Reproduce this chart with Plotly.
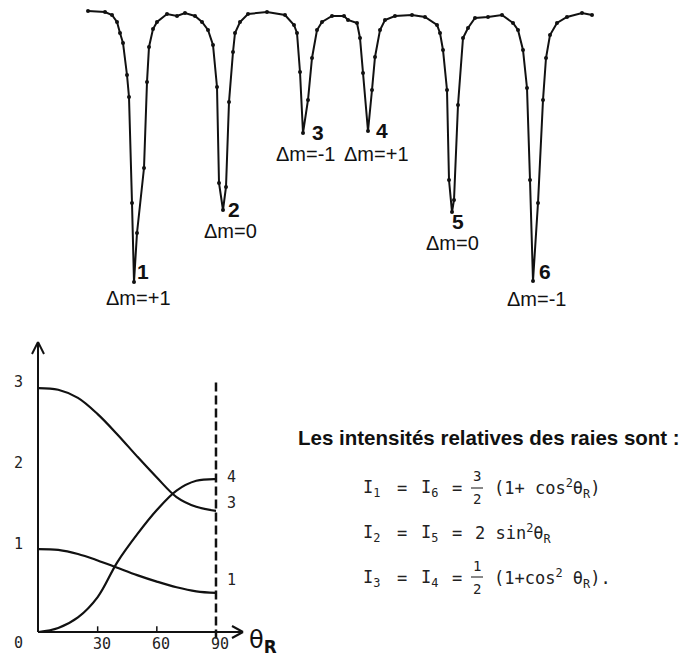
import plotly.graph_objects as go

W, H = 691, 664
OFF = 8  # page body margin offset of the plot div

# ---- Mössbauer spectrum (channel, relative transmission %) ----
channel = [88, 105, 112, 117, 120, 123, 127, 129, 132, 134, 137, 144, 147, 149, 153, 157, 167, 177, 185, 195,
           202, 208, 213, 217, 219, 223, 226, 229, 233, 235, 240, 248, 267, 285, 294, 297, 300, 303, 308, 312,
           317, 322, 332, 344, 348, 357, 360, 363, 368, 372, 375, 380, 385, 395, 412, 425, 437, 440, 443, 447,
           449, 452, 454, 458, 463, 468, 475, 488, 502, 513, 518, 523, 527, 530, 533, 538, 543, 546, 550, 557,
           567, 582, 592]
transmission = [100.1, 100.0, 99.7, 99.0, 97.9, 96.9, 93.7, 91.5, 80.9, 73.0, 77.9, 84.4, 93.0, 96.5, 98.3, 99.0, 99.8, 99.6, 99.9, 99.6,
                99.0, 98.2, 96.7, 92.5, 82.9, 80.2, 82.5, 91.0, 96.0, 97.9, 99.0, 99.8, 100.0, 99.7, 98.7, 97.9, 94.0, 87.9, 91.2, 95.4,
                98.2, 99.0, 99.6, 99.6, 99.2, 98.9, 97.4, 93.9, 88.1, 92.2, 95.5, 98.2, 99.2, 99.6, 99.7, 99.5, 98.7, 97.9, 96.2, 92.2,
                83.2, 80.0, 81.2, 90.7, 97.4, 98.4, 99.4, 99.5, 99.7, 98.9, 98.2, 96.2, 92.4, 83.2, 73.1, 80.9, 91.2, 95.4, 97.7, 98.9,
                99.5, 99.9, 99.7]

line_numbers = ["1", "2", "3", "4", "5", "6"]
line_dm = ["\u0394m=+1", "\u0394m=0", "\u0394m=-1", "\u0394m=+1", "\u0394m=0", "\u0394m=-1"]

# ---- relative intensities vs theta_R ----
theta = [0, 10, 20, 30, 40, 50, 60, 70, 80, 90]
i_line16 = [3.0, 2.98, 2.88, 2.68, 2.43, 2.16, 1.9, 1.66, 1.54, 1.49]
i_line25 = [0.0, 0.05, 0.18, 0.43, 0.86, 1.2, 1.5, 1.74, 1.86, 1.88]
i_line34 = [1.02, 1.01, 0.96, 0.88, 0.79, 0.70, 0.62, 0.55, 0.50, 0.48]
curve_labels = ["4", "3", "1"]
y_ticks = [3, 2, 1]
x_ticks = [30, 60, 90]


def px(x):
    return (x - OFF) / W


def py(y):
    return 1 - (y - OFF) / H


fig = go.Figure()

fig.add_trace(go.Scatter(x=channel, y=transmission, mode="lines+markers",
                         line=dict(color="#111", width=2),
                         marker=dict(color="#111", size=4),
                         xaxis="x", yaxis="y", showlegend=False, hoverinfo="skip"))

for vals in (i_line16, i_line25, i_line34):
    fig.add_trace(go.Scatter(x=theta, y=vals, mode="lines", line=dict(color="#111", width=2.2, shape="spline"),
                             xaxis="x2", yaxis="y2", showlegend=False, hoverinfo="skip"))

ann = []


def tok(text, x, y, font, anchor="center"):
    ann.append(dict(text=text, x=px(x), y=py(y), xref="paper", yref="paper", xanchor=anchor,
                    yanchor="middle", showarrow=False, font=font))


# spectrum labels
fnum = dict(family="Liberation Sans", size=21, color="#111")
fdm = dict(family="Liberation Sans", size=20, color="#111")
num_pos = [(143, 271), (234, 209), (318, 132), (382, 131), (458, 221), (545, 271)]
dm_pos = [(138, 298), (230, 231), (305, 154), (376, 154), (452, 243), (536, 299)]
for t, (x, y) in zip(line_numbers, num_pos):
    tok("<b>%s</b>" % t, x, y, fnum)
for t, (x, y) in zip(line_dm, dm_pos):
    tok(t, x, y, fdm)

mono = dict(family="DejaVu Sans Mono", size=15, color="#222")
# bottom-left plot tick labels
for v in y_ticks:
    ann.append(dict(text=str(v), x=px(18), y=v + 0.08, xref="paper", yref="y2", xanchor="center",
                    yanchor="middle", showarrow=False, font=mono))
tok("0", 18, 643, mono)
for v in x_ticks:
    ann.append(dict(text=str(v), x=v + 2, y=py(644), xref="x2", yref="paper", xanchor="center",
                    yanchor="middle", showarrow=False, font=mono))
tok("\u03b8<sub><b>R</b></sub>", 247, 641, dict(family="DejaVu Sans", size=24, color="#111"), "left")
label_y = [477, 503, 580]
for t, y in zip(curve_labels, label_y):
    tok(t, 231, y, mono)

# text block
tok("<b>Les intensités relatives des raies sont :</b>", 489, 438,
    dict(family="Liberation Sans", size=20.5, color="#111"))

fm = dict(family="DejaVu Sans Mono", size=17, color="#222")
fs = dict(family="DejaVu Sans Mono", size=14, color="#222")

rows = [(488, "1", "6"), (533, "2", "5"), (578, "3", "4")]
for y, a, b in rows:
    tok("I<sub>%s</sub>" % a, 361, y, fm, "left")
    tok("=", 402, y, fm)
    tok("I<sub>%s</sub>" % b, 419, y, fm, "left")
    tok("=", 457, y, fm)
tok("3", 477, 476, fs)
tok("2", 477, 499, fs)
tok("(1+ cos<sup>2</sup>\u03b8<sub>R</sub>)", 492, 488, fm, "left")
tok("2 sin<sup>2</sup>\u03b8<sub>R</sub>", 473, 533, fm, "left")
tok("1", 477, 566, fs)
tok("2", 477, 589, fs)
tok("(1+cos<sup>2</sup> \u03b8<sub>R</sub>).", 492, 578, fm, "left")

shapes = []


def seg(x0, y0, x1, y1, w=2, dash="solid"):
    shapes.append(dict(type="line", xref="paper", yref="paper", x0=px(x0), y0=py(y0), x1=px(x1), y1=py(y1),
                       line=dict(color="#111", width=w, dash=dash)))


# axes with open arrowheads
seg(38, 632, 38, 342)
seg(32, 354, 38, 342)
seg(44, 354, 38, 342)
seg(38, 632, 243, 632)
seg(232, 626, 243, 632)
seg(232, 638, 243, 632)
# fraction bars
seg(471, 488, 483, 488, 1)
seg(471, 577, 483, 577, 1)
# ticks and dashed line in data coords
for v in x_ticks[:2]:
    shapes.append(dict(type="line", xref="x2", yref="y2", x0=v, x1=v, y0=0, y1=0.07,
                       line=dict(color="#111", width=1.5)))
shapes.append(dict(type="line", xref="x2", yref="y2", x0=90, x1=90, y0=3.07, y1=-0.1,
                   line=dict(color="#111", width=2.5, dash="9px,4px")))

# axis ranges so that data map onto the page pixels
fig.update_layout(
    width=W, height=H, margin=dict(l=0, r=0, t=0, b=0),
    paper_bgcolor="white", plot_bgcolor="rgba(0,0,0,0)",
    xaxis=dict(domain=[0, 1], range=[8, 699], visible=False, fixedrange=True),
    yaxis=dict(domain=[0, 1], range=[34.0, 100.4], visible=False, fixedrange=True),
    xaxis2=dict(domain=[0, 1], range=[-15.46, 334.9], visible=False, anchor="y2", fixedrange=True),
    yaxis2=dict(domain=[0, 1], range=[-0.492, 7.675], visible=False, anchor="x2", fixedrange=True),
    annotations=ann, shapes=shapes,
)

fig.write_html("out.html")
